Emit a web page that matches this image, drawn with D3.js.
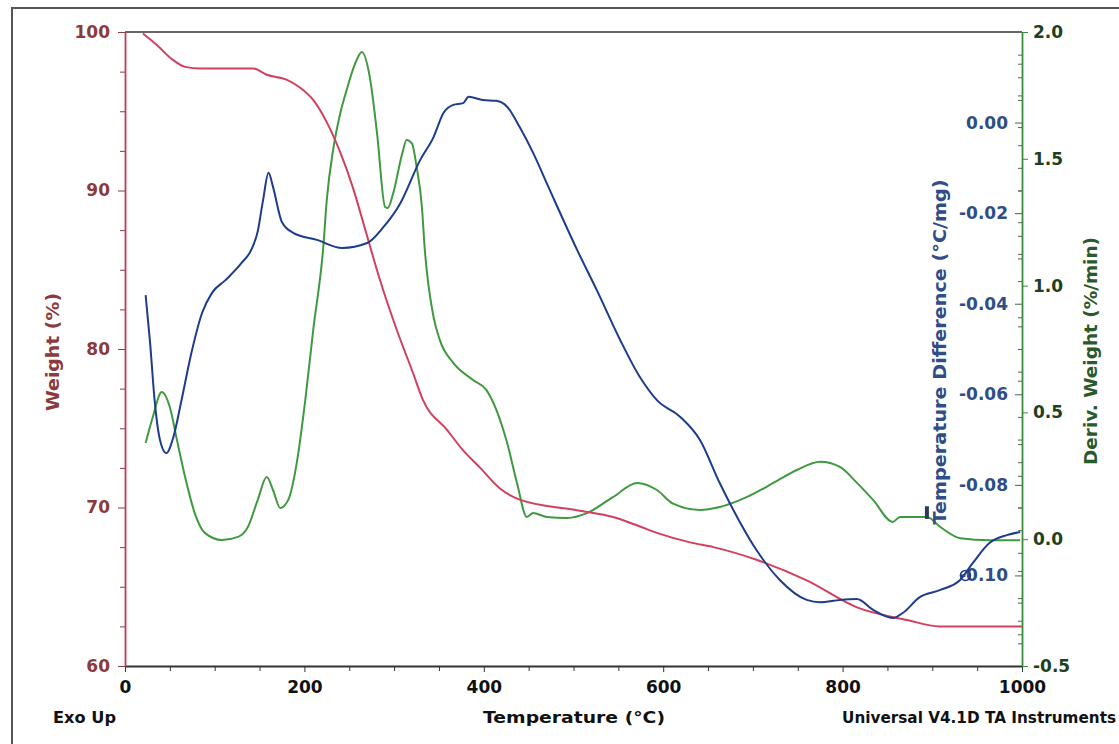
<!DOCTYPE html>
<html>
<head>
<meta charset="utf-8">
<script src="https://cdn.jsdelivr.net/npm/d3@7"></script>
<style>
  html, body { margin: 0; padding: 0; background: #fff; }
  svg { display: block; }
  text { font-family: "DejaVu Sans", "Liberation Sans", sans-serif; font-weight: bold; }
</style>
</head>
<body>
<svg id="chart" width="1119" height="744"></svg>
<script>
// ---------- DATA ----------
const weightTemp = [20, 37, 52, 67, 84, 143, 158, 180, 195, 210, 225, 240, 254, 269, 284, 303, 321, 332, 359, 377, 396, 418, 440, 507, 544, 574, 593, 630, 656, 704, 760, 816, 872, 908, 1000];
const weightVal  = [99.9, 99.1, 98.3, 97.8, 97.7, 97.7, 97.3, 97.0, 96.5, 95.7, 94.3, 92.4, 90.2, 87.3, 84.4, 81.2, 78.5, 76.8, 74.9, 73.6, 72.5, 71.2, 70.5, 69.8, 69.4, 68.8, 68.4, 67.8, 67.5, 66.7, 65.4, 63.7, 62.9, 62.5, 62.5];

const diffTemp = [23, 28, 33, 39, 46, 54, 63, 74, 86, 97, 112, 130, 141, 148, 154, 160, 165, 175, 188, 214, 242, 270, 288, 307, 329, 344, 355, 366, 377, 383, 399, 414, 426, 440, 455, 472, 504, 526, 552, 574, 593, 619, 641, 663, 686, 704, 730, 760, 775, 797, 816, 834, 856, 867, 886, 909, 931, 945, 964, 983, 998];
const diffVal  = [-0.0381, -0.0487, -0.0613, -0.0701, -0.073, -0.0694, -0.0613, -0.0509, -0.042, -0.0376, -0.0348, -0.031, -0.028, -0.024, -0.017, -0.0111, -0.0142, -0.022, -0.0244, -0.0259, -0.0277, -0.0266, -0.0231, -0.0178, -0.0083, -0.0032, 0.0021, 0.0039, 0.0043, 0.0057, 0.005, 0.0048, 0.0035, -0.001, -0.0067, -0.0142, -0.0281, -0.037, -0.048, -0.0562, -0.0613, -0.065, -0.0701, -0.0796, -0.0884, -0.0944, -0.101, -0.1054, -0.1059, -0.1054, -0.1052, -0.1076, -0.1094, -0.1083, -0.1048, -0.1032, -0.101, -0.0973, -0.0928, -0.0911, -0.0904];

const derivTemp = [23, 31, 41, 50, 58, 67, 78, 89, 108, 126, 137, 148, 158, 165, 173, 182, 192, 201, 210, 221, 225, 232, 240, 247, 256, 264, 273, 281, 290, 293, 299, 309, 314, 320, 325, 331, 334, 344, 351, 366, 388, 403, 414, 426, 437, 448, 455, 470, 493, 515, 544, 571, 593, 611, 641, 663, 693, 723, 749, 775, 797, 816, 834, 856, 864, 894, 909, 931, 964, 998];
const derivVal  = [0.379, 0.482, 0.58, 0.52, 0.39, 0.245, 0.10, 0.025, -0.003, 0.009, 0.048, 0.155, 0.245, 0.194, 0.123, 0.155, 0.312, 0.549, 0.83, 1.15, 1.34, 1.535, 1.68, 1.77, 1.87, 1.921, 1.82, 1.60, 1.31, 1.306, 1.364, 1.52, 1.574, 1.56, 1.47, 1.31, 1.152, 0.876, 0.785, 0.695, 0.628, 0.588, 0.51, 0.38, 0.222, 0.088, 0.103, 0.088, 0.084, 0.103, 0.166, 0.222, 0.194, 0.14, 0.115, 0.127, 0.166, 0.222, 0.273, 0.305, 0.285, 0.222, 0.155, 0.068, 0.088, 0.088, 0.048, 0.004, -0.004, -0.004];

const tempTicks   = [0, 200, 400, 600, 800, 1000];
const tempMinor   = [50, 100, 150, 250, 300, 350, 450, 500, 550, 650, 700, 750, 850, 900, 950];
const weightTicks = [60, 70, 80, 90, 100];
const weightMinor = [62.5, 65, 67.5, 72.5, 75, 77.5, 82.5, 85, 87.5, 92.5, 95, 97.5];
const diffTicks   = [-0.10, -0.08, -0.06, -0.04, -0.02, 0.00];
const diffMinor   = [-0.115, -0.11, -0.105, -0.095, -0.09, -0.085, -0.075, -0.07, -0.065, -0.055, -0.05, -0.045, -0.035, -0.03, -0.025, -0.015, -0.01, -0.005, 0.005, 0.01, 0.015];
const derivTicks  = [-0.5, 0.0, 0.5, 1.0, 1.5, 2.0];
const derivMinor  = [-0.375, -0.25, -0.125, 0.125, 0.25, 0.375, 0.625, 0.75, 0.875, 1.125, 1.25, 1.375, 1.625, 1.75, 1.875];

// ---------- LAYOUT ----------
const L = 125, R = 1022, T = 32, B = 666;
const svg = d3.select("#chart");
const cWeight = "#8b3a3e", cWeightLine = "#d2405e", cWeightAxis = "#c8365a";
const cDiff = "#2f4d86", cDiffLine = "#1e3c8c";
const cDeriv = "#1f3f1f", cDerivLine = "#3f9a3f", cDerivAxis = "#3c8a3c";

svg.append("rect").attr("width", 1119).attr("height", 744).attr("fill", "#fff");
// outer frame
svg.append("path").attr("d", "M12,760 L12,8 L1130,8").attr("fill", "none").attr("stroke", "#555").attr("stroke-width", 2);

const x  = d3.scaleLinear().domain([0, 1000]).range([L, R]);
const yW = d3.scaleLinear().domain([60, 100]).range([B, T]);
const yD = d3.scaleLinear().domain([-0.5, 2.0]).range([B, T]);
const yT = d3.scaleLinear().domain([-0.12, 0.02]).range([B, T]);

// top border
svg.append("line").attr("x1", L).attr("x2", R).attr("y1", T).attr("y2", T).attr("stroke", "#333").attr("stroke-width", 1.6);

function styleAxis(g, color, domainColor, fontSize) {
  g.selectAll("text").attr("fill", color).style("font-size", fontSize + "px").style("font-weight", "bold").attr("font-family", null);
  g.selectAll(".tick line").attr("stroke", domainColor);
  g.select(".domain").attr("stroke", domainColor).attr("stroke-width", 1.8);
}

// bottom axis
const gxMinor = svg.append("g").attr("transform", `translate(0,${B})`)
  .call(d3.axisBottom(x).tickValues(tempMinor).tickSize(5).tickFormat(""));
gxMinor.select(".domain").remove();
gxMinor.selectAll(".tick line").attr("stroke", "#333");
const gx = svg.append("g").attr("transform", `translate(0,${B})`)
  .call(d3.axisBottom(x).tickValues(tempTicks).tickSize(6).tickSizeOuter(0).tickPadding(9).tickFormat(d3.format("d")));
styleAxis(gx, "#111", "#333", 17);

// left weight axis
const gwMinor = svg.append("g").attr("transform", `translate(${L},0)`)
  .call(d3.axisLeft(yW).tickValues(weightMinor).tickSize(5).tickFormat(""));
gwMinor.select(".domain").remove();
gwMinor.selectAll(".tick line").attr("stroke", cWeight);
const gw = svg.append("g").attr("transform", `translate(${L},0)`)
  .call(d3.axisLeft(yW).tickValues(weightTicks).tickSize(7).tickSizeOuter(0).tickPadding(8).tickFormat(d3.format("d")));
styleAxis(gw, cWeight, cWeightAxis, 17);
gw.selectAll(".tick line").attr("stroke", cWeight);

// temperature difference axis (labels left of right axis)
const gtMinor = svg.append("g").attr("transform", `translate(${R},0)`)
  .call(d3.axisLeft(yT).tickValues(diffMinor).tickSize(4).tickFormat(""));
gtMinor.select(".domain").remove();
gtMinor.selectAll(".tick line").attr("stroke", "#4a6a4a");
const gt = svg.append("g").attr("transform", `translate(${R},0)`)
  .call(d3.axisLeft(yT).tickValues(diffTicks).tickSize(7).tickPadding(7).tickFormat(d => d.toFixed(2)));
gt.select(".domain").remove();
styleAxis(gt, cDiff, "#3c6a3c", 17);

// deriv weight axis (right)
const gdMinor = svg.append("g").attr("transform", `translate(${R},0)`)
  .call(d3.axisRight(yD).tickValues(derivMinor).tickSize(-4).tickFormat(""));
gdMinor.select(".domain").remove();
gdMinor.selectAll(".tick line").attr("stroke", "#4a6a4a");
const gd = svg.append("g").attr("transform", `translate(${R},0)`)
  .call(d3.axisRight(yD).tickValues(derivTicks).tickSize(6).tickSizeOuter(0).tickPadding(5).tickFormat(d => d.toFixed(1)));
styleAxis(gd, cDeriv, cDerivAxis, 17);

// ---------- CURVES ----------
function drawLine(xs, ys, yScale, color) {
  const pts = xs.map((t, i) => [t, ys[i]]);
  svg.append("path").datum(pts)
    .attr("fill", "none").attr("stroke", color).attr("stroke-width", 2)
    .attr("stroke-linejoin", "round")
    .attr("d", d3.line().x(d => x(d[0])).y(d => yScale(d[1])).curve(d3.curveMonotoneX));
}
drawLine(derivTemp, derivVal, yD, cDerivLine);
drawLine(weightTemp, weightVal, yW, cWeightLine);
drawLine(diffTemp, diffVal, yT, cDiffLine);

// small instrument markers
svg.append("rect").attr("x", x(894) - 2).attr("y", yD(0.13)).attr("width", 4).attr("height", yD(0.08) - yD(0.13)).attr("fill", "#2b3b5b");
svg.append("circle").attr("cx", x(937)).attr("cy", yT(-0.1)).attr("r", 5).attr("fill", "none").attr("stroke", cDiffLine).attr("stroke-width", 1.5);

// ---------- TITLES ----------
svg.append("text").attr("transform", "translate(59,352) rotate(-90)")
  .attr("text-anchor", "middle").attr("fill", cWeight).style("font-size", "18px")
  .attr("textLength", 118).attr("lengthAdjust", "spacingAndGlyphs").text("Weight (%)");
svg.append("text").attr("transform", "translate(946,352) rotate(-90)")
  .attr("text-anchor", "middle").attr("fill", cDiff).style("font-size", "18px")
  .attr("textLength", 345).attr("lengthAdjust", "spacingAndGlyphs").text("Temperature Difference (°C/mg)");
svg.append("text").attr("transform", "translate(1097,351) rotate(-90)")
  .attr("text-anchor", "middle").attr("fill", "#2a5a2a").style("font-size", "18px")
  .attr("textLength", 228).attr("lengthAdjust", "spacingAndGlyphs").text("Deriv. Weight (%/min)");

svg.append("text").attr("x", 53).attr("y", 723).attr("fill", "#111").style("font-size", "15px")
  .attr("textLength", 63).attr("lengthAdjust", "spacingAndGlyphs").text("Exo Up");
svg.append("text").attr("x", 483).attr("y", 723).attr("fill", "#111").style("font-size", "16px")
  .attr("textLength", 182).attr("lengthAdjust", "spacingAndGlyphs").text("Temperature (°C)");
svg.append("text").attr("x", 842).attr("y", 723).attr("fill", "#111").style("font-size", "15px")
  .attr("textLength", 274).attr("lengthAdjust", "spacingAndGlyphs").text("Universal V4.1D TA Instruments");
</script>
</body>
</html>
